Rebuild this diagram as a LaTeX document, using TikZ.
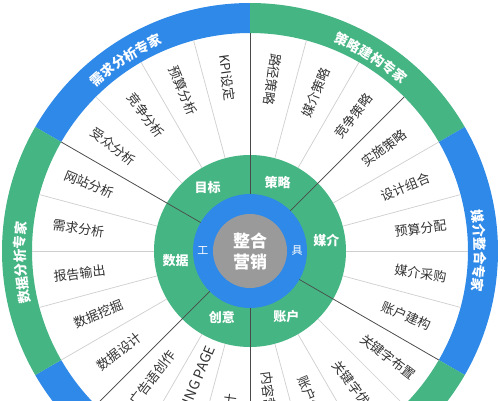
\documentclass[tikz,border=0pt]{standalone}
\usepackage{fontspec}
\setmainfont{Noto Sans CJK SC}
\usetikzlibrary{decorations.text}

\definecolor{ringgreen}{HTML}{45B583}
\definecolor{ringblue}{HTML}{2F89E8}
\definecolor{hubgray}{HTML}{9A9A9A}
\definecolor{spokelight}{HTML}{CFCFCF}
\definecolor{spokedark}{HTML}{4A4A4A}
\definecolor{itemtext}{HTML}{333333}

\tikzset{
    itemlabel/.style={font=\fontsize{13}{15}\selectfont, text=itemtext, inner sep=0pt},
    grouplabel/.style={font=\fontsize{13}{15}\selectfont\bfseries, text=white, inner sep=0pt},
    toollabel/.style={font=\fontsize{11}{13}\selectfont, text=white, inner sep=0pt},
    hublabel/.style={font=\fontsize{17}{21}\selectfont\bfseries, text=white, align=center, inner sep=0pt},
    spoke/.style={spokelight, line width=0.7pt},
    mainspoke/.style={spokedark, line width=0.7pt},
    ringtext/.style={decorate, decoration={text along path, text align=center,
        text={|\fontsize{13.5}{15}\selectfont\bfseries\color{white}|#1}}}
}

\begin{document}
\begin{tikzpicture}[x=1pt,y=1pt]
    \clip (-250,-149) rectangle (250,251);
    \fill[white] (-250,-149) rectangle (250,251);

    % expert ring
    \foreach \a/\col in {90/ringblue, 30/ringgreen, -30/ringblue, -90/ringgreen, 210/ringblue, 150/ringgreen}
        \fill[\col] (\a:248) arc[start angle=\a, end angle=\a+60, radius=248]
            -- ({\a+60}:218) arc[start angle=\a+60, end angle=\a, radius=218] -- cycle;

    \path[ringtext=需求分析专家] (153:225) arc[start angle=153, end angle=93, radius=225];
    \path[ringtext=策略建构专家] (88:225) arc[start angle=88, end angle=28, radius=225];
    \path[ringtext=媒介整合专家] (30:225) arc[start angle=30, end angle=-30, radius=225];
    \path[ringtext=数据分析专家] (213:225) arc[start angle=213, end angle=153, radius=225];

    % tool rings
    \coordinate (origin) at (0,0);
    \fill[ringgreen] (origin) circle[radius=96];
    \fill[ringblue] (origin) circle[radius=57];
    \fill[hubgray] (origin) circle[radius=37];

    % spokes
    \foreach \a in {0,15,...,345}
        \draw[spoke] (\a:96) -- (\a:218);
    \foreach \a in {90,45,-30,-90,225,150}
        \draw[mainspoke] (\a:57) -- (\a:218);

    % items, read towards the hub
    \foreach \a/\r/\t [count=\i] in {82.5/173/路径策略, 97.5/175/KPI设定, 112.5/174/预算分析,
            127.5/171/竞争分析, 142.5/172/受众分析, 157.5/174/网站分析, 172.5/173/需求分析,
            187.5/172/报告输出, 202.5/164/数据挖掘, 217.5/165/数据设计, 232.5/160/广告语创作,
            247.5/152/{\fontsize{14}{16}\selectfont LANDING PAGE}, 262.5/170/视觉设计}
        \node[itemlabel, rotate=\a-180] (inward-\i) at (\a:\r) {\t};

    % items, read away from the hub
    \foreach \a/\r/\t [count=\i] in {67.5/171/媒介策略, 52.5/170/竞争策略, 37.5/169/实施策略,
            22.5/168/设计组合, 7.5/172/预算分配, -7.5/172/媒介采购, -22.5/169/账户建构,
            -37.5/174/关键字布置, -52.5/173/关键字优化, -67.5/162/账户优化, -82.5/148/内容营销}
        \node[itemlabel, rotate=\a] (outward-\i) at (\a:\r) {\t};

    \node[grouplabel] (goal) at (124:76) {目标};
    \node[grouplabel] (strategy) at (68:74) {策略};
    \node[grouplabel] (media) at (8:77) {媒介};
    \node[grouplabel] (data) at (187:75) {数据};
    \node[grouplabel] (creative) at (247:72) {创意};
    \node[grouplabel] (account) at (299:75) {账户};

    \node[toollabel] (tool_l) at (180:47) {工};
    \node[toollabel] (tool_r) at (0:47) {具};
    \node[hublabel] (hub) at (origin) {整合\\营销};
\end{tikzpicture}
\end{document}
